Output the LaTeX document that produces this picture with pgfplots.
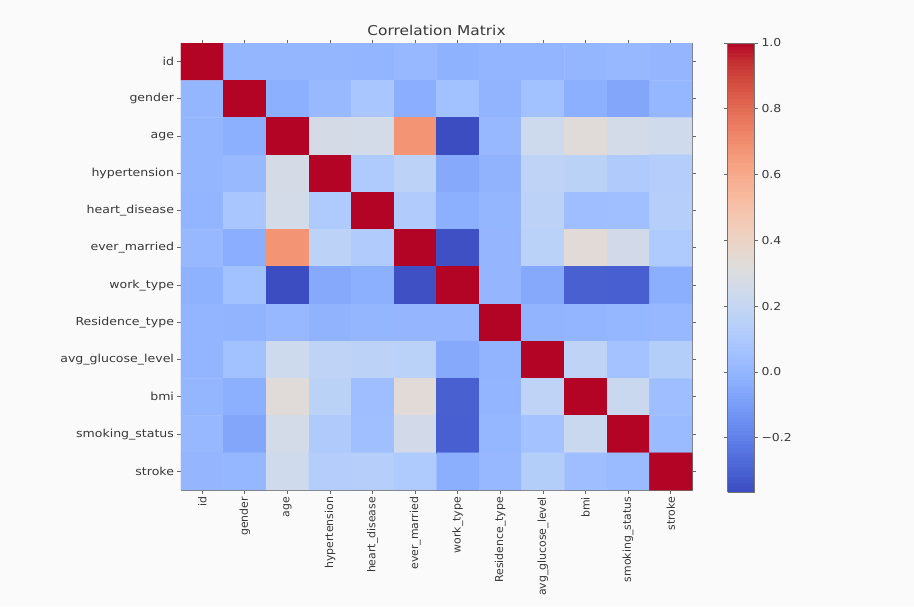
\documentclass[border=0pt]{standalone}
\usepackage{fontspec}
\setmainfont[FakeStretch=1.14]{DejaVu Sans}
\newfontfamily\xlabfont{DejaVu Sans}
\usepackage{pgfplots}
\pgfplotsset{compat=1.18}
\definecolor{txt}{gray}{0.22}
\definecolor{bg}{RGB}{250,250,250}
\begin{document}
\begin{tikzpicture}[x=1pt,y=1pt]
\path[use as bounding box] (0,0) rectangle (914,606);
\fill[bg] (0,0) rectangle (914,606);
\begin{axis}[
 at={(181pt,116pt)}, anchor=south west,
 width=511pt, height=447pt, scale only axis,
 xmin=-0.5, xmax=11.5, ymin=-0.5, ymax=11.5, y dir=reverse,
 enlargelimits=false,
 xtick={0,...,11}, ytick={0,...,11},
 xticklabels={id,gender,age,hypertension,heart\_disease,ever\_married,work\_type,Residence\_type,avg\_glucose\_level,bmi,smoking\_status,stroke},
 yticklabels={id,gender,age,hypertension,heart\_disease,ever\_married,work\_type,Residence\_type,avg\_glucose\_level,bmi,smoking\_status,stroke},
 x tick label style={rotate=90, anchor=east, font=\xlabfont\fontsize{10.9}{12}\selectfont, text=txt},
 y tick label style={font=\fontsize{11}{12}\selectfont, text=txt},
 tick align=outside, major tick length=3.5pt, tick style={black!60, line width=0.8pt},
 axis line style={black!55, line width=0.9pt},
 title={Correlation Matrix},
 title style={font=\fontsize{13.5}{15}\selectfont, text=txt, yshift=-2pt},
 colormap={coolwarm}{rgb255=(59,76,192) rgb255=(68,90,204) rgb255=(77,104,215) rgb255=(87,117,225) rgb255=(98,130,234) rgb255=(108,142,241) rgb255=(119,154,247) rgb255=(130,165,251) rgb255=(141,176,254) rgb255=(152,185,255) rgb255=(163,194,255) rgb255=(174,201,253) rgb255=(184,208,249) rgb255=(194,213,244) rgb255=(204,217,238) rgb255=(213,219,230) rgb255=(221,221,221) rgb255=(229,216,209) rgb255=(236,211,197) rgb255=(241,204,185) rgb255=(245,196,173) rgb255=(247,187,160) rgb255=(247,177,148) rgb255=(247,166,135) rgb255=(244,154,123) rgb255=(241,141,111) rgb255=(236,127,99) rgb255=(229,112,88) rgb255=(222,96,77) rgb255=(213,80,66) rgb255=(203,62,56) rgb255=(192,40,47) rgb255=(180,4,38)},
 point meta min=-0.365, point meta max=1,
 colorbar sampled,
 colorbar style={
   at={(parent axis.north east)}, anchor=north west, xshift=27pt,
   width=27pt, height=449pt, scale only axis,
   samples=140,
   ytick={-0.2,0,0.2,0.4,0.6,0.8,1.0},
   yticklabels={−0.2,0.0,0.2,0.4,0.6,0.8,1.0},
   yticklabel style={font=\fontsize{10.9}{12}\selectfont, text=txt},
   tick align=outside, major tick length=3.5pt, tick style={black!60, line width=0.8pt},
   axis line style={black!55, line width=0.9pt},
 },
]
\addplot[matrix plot*, mesh/cols=12, point meta=explicit] coordinates {
(0,0)[1] (1,0)[0.003] (2,0)[0.004] (3,0)[0.004] (4,0)[-0.001] (5,0)[0.014] (6,0)[-0.016] (7,0)[-0.001] (8,0)[0.001] (9,0)[0.003] (10,0)[0.014] (11,0)[0.006]

(0,1)[0.003] (1,1)[1] (2,1)[-0.028] (3,1)[0.021] (4,1)[0.085] (5,1)[-0.030] (6,1)[0.056] (7,1)[-0.006] (8,1)[0.055] (9,1)[-0.026] (10,1)[-0.062] (11,1)[0.009]

(0,2)[0.004] (1,2)[-0.028] (2,2)[1] (3,2)[0.276] (4,2)[0.264] (5,2)[0.679] (6,2)[-0.361] (7,2)[0.014] (8,2)[0.238] (9,2)[0.333] (10,2)[0.265] (11,2)[0.245]

(0,3)[0.004] (1,3)[0.021] (2,3)[0.276] (3,3)[1] (4,3)[0.108] (5,3)[0.164] (6,3)[-0.051] (7,3)[-0.008] (8,3)[0.174] (9,3)[0.160] (10,3)[0.111] (11,3)[0.128]

(0,4)[-0.001] (1,4)[0.085] (2,4)[0.264] (3,4)[0.108] (4,4)[1] (5,4)[0.115] (6,4)[-0.028] (7,4)[0.003] (8,4)[0.162] (9,4)[0.041] (10,4)[0.048] (11,4)[0.135]

(0,5)[0.014] (1,5)[-0.030] (2,5)[0.679] (3,5)[0.164] (4,5)[0.115] (5,5)[1] (6,5)[-0.352] (7,5)[0.006] (8,5)[0.155] (9,5)[0.341] (10,5)[0.259] (11,5)[0.108]

(0,6)[-0.016] (1,6)[0.056] (2,6)[-0.361] (3,6)[-0.051] (4,6)[-0.028] (5,6)[-0.352] (6,6)[1] (7,6)[0.007] (8,6)[-0.050] (9,6)[-0.305] (10,6)[-0.306] (11,6)[-0.032]

(0,7)[-0.001] (1,7)[-0.006] (2,7)[0.014] (3,7)[-0.008] (4,7)[0.003] (5,7)[0.006] (6,7)[0.007] (7,7)[1] (8,7)[-0.005] (9,7)[-0.001] (10,7)[0.008] (11,7)[0.015]

(0,8)[0.001] (1,8)[0.055] (2,8)[0.238] (3,8)[0.174] (4,8)[0.162] (5,8)[0.155] (6,8)[-0.050] (7,8)[-0.005] (8,8)[1] (9,8)[0.175] (10,8)[0.063] (11,8)[0.132]

(0,9)[0.003] (1,9)[-0.026] (2,9)[0.333] (3,9)[0.160] (4,9)[0.041] (5,9)[0.341] (6,9)[-0.305] (7,9)[-0.001] (8,9)[0.175] (9,9)[1] (10,9)[0.223] (11,9)[0.042]

(0,10)[0.014] (1,10)[-0.062] (2,10)[0.265] (3,10)[0.111] (4,10)[0.048] (5,10)[0.259] (6,10)[-0.306] (7,10)[0.008] (8,10)[0.063] (9,10)[0.223] (10,10)[1] (11,10)[0.028]

(0,11)[0.006] (1,11)[0.009] (2,11)[0.245] (3,11)[0.128] (4,11)[0.135] (5,11)[0.108] (6,11)[-0.032] (7,11)[0.015] (8,11)[0.132] (9,11)[0.042] (10,11)[0.028] (11,11)[1]
};
\end{axis}
\end{tikzpicture}
\end{document}
